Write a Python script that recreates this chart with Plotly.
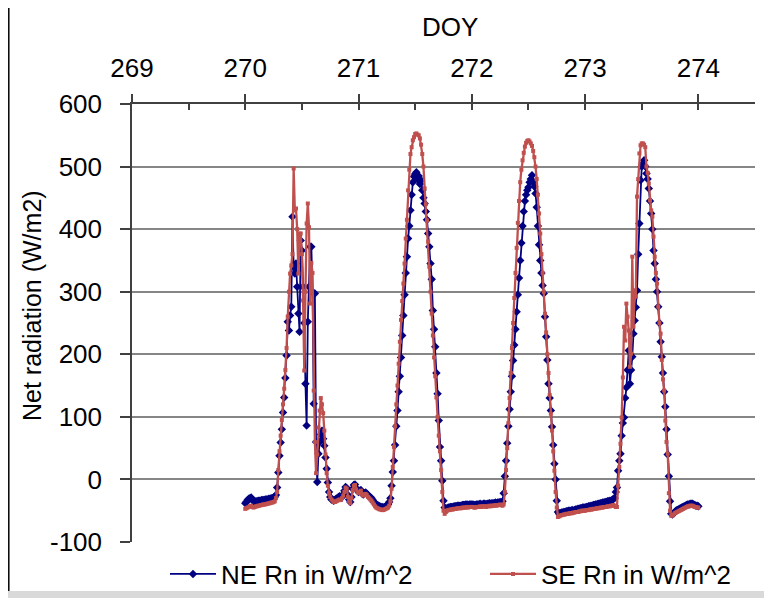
import numpy as np
import plotly.graph_objects as go

# ---- Data: 15-minute net radiation, DOY 270.0 .. 274.0 ----
day_start = 270.0
step = 1.0 / 96.0
x_ticks = [269, 270, 271, 272, 273, 274]
x_ticktext = ["269", "270", "271", "272", "273", "274"]
y_ticks = [-100, 0, 100, 200, 300, 400, 500, 600]
y_ticktext = ["-100", "0", "100", "200", "300", "400", "500", "600"]

ne_270 = [-38, -36, -33, -31, -30, -29, -32, -35, -36, -35, -35, -34,
          -34, -34, -33, -33, -33, -32, -32, -32, -31, -31, -30, -30,
          -29, -28, -25, -13, 11, 38, 59, 80, 107, 131, 162, 198,
          252, 238, 262, 276, 420, 340, 329, 345, 308, 265, 236, 382,
          366, 308, 250, 153, 86, 252, 308, 372, 372, 300, 121, 297,
          60, -4, 41, 60, 72, 78, 65, 54, 35, 17, -5, -20,
          -28, -32, -33, -34, -33, -31, -30, -28, -27, -29, -28, -24,
          -18, -12, -14, -25, -32, -36, -28, -15, -9, -8, -14, -17]
ne_271 = [-20, -18, -17, -22, -24, -22, -21, -23, -25, -27, -28, -30,
          -33, -36, -38, -40, -41, -42, -43, -44, -44, -45, -44, -43,
          -42, -40, -36, -30, -10, 12, 30, 55, 85, 110, 140, 165,
          195, 230, 262, 295, 330, 356, 385, 405, 430, 455, 475, 484,
          488, 491, 480, 485, 472, 478, 462, 450, 441, 428, 415, 393,
          372, 345, 320, 270, 240, 212, 170, 137, 94, 52, 30, -2,
          -34, -45, -47, -46, -45, -45, -44, -44, -44, -43, -43, -43,
          -42, -42, -42, -42, -41, -41, -41, -40, -40, -41, -40, -40]
ne_272 = [-40, -40, -41, -41, -40, -40, -40, -39, -40, -40, -39, -39,
          -40, -39, -39, -38, -39, -38, -38, -38, -37, -38, -37, -37,
          -36, -38, -35, -22, 5, 30, 58, 85, 112, 140, 165, 190,
          215, 240, 268, 295, 322, 350, 378, 405, 428, 445, 455, 462,
          467, 475, 480, 486, 475, 468, 457, 435, 405, 375, 350, 330,
          310, 297, 260, 228, 191, 153, 130, 110, 84, 55, 25, 0,
          -34, -52, -55, -54, -53, -53, -52, -52, -51, -51, -50, -50,
          -50, -49, -50, -49, -48, -48, -47, -47, -46, -46, -45, -45]
ne_273 = [-45, -44, -44, -43, -43, -42, -42, -41, -41, -40, -40, -39,
          -39, -38, -38, -37, -37, -36, -36, -35, -35, -34, -34, -33,
          -31, -30, -20, -13, 14, 30, 41, 70, 90, 99, 130, 147,
          175, 206, 153, 175, 196, 233, 254, 275, 302, 360, 409, 478,
          500, 505, 510, 500, 489, 480, 465, 445, 425, 400, 366, 345,
          320, 300, 276, 250, 220, 196, 170, 140, 116, 80, 40, 5,
          -35, -55, -56, -54, -52, -50, -49, -48, -47, -46, -45, -44,
          -43, -42, -41, -40, -40, -39, -39, -39, -40, -41, -42, -42,
          -43]

se_270 = [-47, -46, -45, -44, -43, -42, -44, -45, -44, -43, -43, -42,
          -42, -41, -41, -40, -40, -40, -39, -39, -38, -38, -37, -37,
          -36, -35, -30, -20, 15, 45, 70, 95, 120, 145, 175, 210,
          260, 300, 329, 342, 360, 497, 430, 433, 400, 329, 393, 393,
          360, 286, 174, 300, 409, 441, 403, 281, 346, 330, 142, 60,
          10, 40, 83, 110, 130, 120, 106, 78, 40, 10, -10, -22,
          -28, -32, -34, -36, -36, -35, -34, -33, -32, -33, -30, -26,
          -20, -13, -15, -28, -35, -38, -30, -17, -10, -9, -16, -20]
se_271 = [-22, -20, -18, -24, -26, -24, -23, -25, -28, -30, -32, -34,
          -37, -40, -43, -45, -46, -47, -48, -48, -49, -49, -48, -47,
          -46, -45, -42, -35, -15, 20, 52, 85, 120, 150, 185, 220,
          255, 285, 313, 345, 385, 415, 462, 495, 520, 531, 542, 547,
          552, 553, 551, 550, 545, 535, 520, 500, 465, 440, 414, 380,
          340, 300, 265, 230, 195, 165, 131, 100, 70, 45, 15, -20,
          -50, -55, -52, -50, -49, -49, -48, -48, -48, -47, -47, -47,
          -46, -46, -46, -46, -45, -45, -45, -45, -44, -45, -44, -44]
se_272 = [-44, -44, -45, -45, -44, -44, -44, -43, -44, -43, -43, -43,
          -44, -43, -43, -42, -43, -42, -42, -42, -41, -42, -41, -41,
          -40, -41, -42, -40, -20, 15, 50, 90, 130, 170, 210, 250,
          290, 330, 370, 410, 445, 475, 495, 510, 522, 532, 538, 541,
          542, 540, 537, 533, 525, 515, 500, 480, 455, 425, 393, 360,
          330, 300, 265, 235, 200, 170, 135, 105, 78, 45, 14, -20,
          -45, -60, -59, -58, -57, -57, -56, -56, -55, -55, -55, -54,
          -54, -54, -53, -53, -52, -52, -52, -51, -51, -50, -50, -50]
se_273 = [-50, -49, -49, -49, -48, -48, -48, -47, -47, -47, -46, -46,
          -46, -45, -45, -45, -44, -44, -44, -43, -43, -43, -42, -42,
          -41, -42, -44, -44, -10, 20, 57, 99, 163, 244, 222, 281,
          260, 238, 180, 201, 356, 244, 302, 292, 452, 480, 521, 534,
          537, 537, 535, 531, 500, 490, 473, 446, 430, 420, 388, 356,
          330, 313, 276, 250, 233, 191, 160, 142, 94, 60, 41, -22,
          -50, -58, -58, -56, -54, -53, -52, -51, -50, -49, -48, -47,
          -46, -45, -44, -43, -43, -42, -42, -42, -43, -44, -44, -45,
          -45]

ne = ne_270 + ne_271 + ne_272 + ne_273
se = se_270 + se_271 + se_272 + se_273
doy_ne = day_start + np.arange(len(ne)) * step
doy_se = day_start + np.arange(len(se)) * step

NAVY = "#000080"
RED = "#C0504D"
FONT = "Liberation Sans, Arial, sans-serif"

OFF = 8  # page body offset of the figure inside the browser window
W, H = 772, 598
L, T = 132 - OFF, 104 - OFF
R = W - (755 - OFF)
B = H - (542 - OFF)
pw, ph = W - L - R, H - T - B


def px(sx):
    """screen x -> paper x"""
    return (sx - OFF - L) / pw


def py(sy):
    """screen y -> paper y"""
    return (H - B - (sy - OFF)) / ph


fig = go.Figure()
fig.add_trace(go.Scatter(
    x=doy_ne, y=ne, mode="lines+markers", name="NE Rn in W/m^2",
    line=dict(color=NAVY, width=1.8),
    marker=dict(symbol="diamond", size=6.5, color=NAVY), legend="legend"))
fig.add_trace(go.Scatter(
    x=doy_se, y=se, mode="lines+markers", name="SE Rn in W/m^2",
    line=dict(color=RED, width=2.3),
    marker=dict(symbol="square", size=4, color=RED), legend="legend2"))
# helper trace so the overlay axis (inside minor ticks) renders
fig.add_trace(go.Scatter(x=[269], y=[None], xaxis="x2", showlegend=False,
                         hoverinfo="skip"))

leg_common = dict(orientation="h", xanchor="left", yanchor="middle",
                  xref="container", yref="container",
                  font=dict(size=26), itemwidth=46,
                  bgcolor="rgba(0,0,0,0)")

fig.update_layout(
    width=W, height=H,
    margin=dict(l=L, r=R, t=T, b=B, pad=0, autoexpand=False),
    paper_bgcolor="white", plot_bgcolor="white",
    font=dict(family=FONT, size=26, color="black"),
    showlegend=True,
    legend=dict(x=157 / W, y=1 - 566 / H, **leg_common),
    legend2=dict(x=477 / W, y=1 - 566 / H, **leg_common),
    xaxis=dict(side="top", range=[269, 274.5], tickmode="array",
               tickvals=x_ticks, ticktext=x_ticktext,
               ticks="outside", ticklen=8, tickwidth=1.5, tickcolor="#404040",
               showline=True, linecolor="#404040", linewidth=1.5,
               showgrid=False, zeroline=False, ticklabelstandoff=7,
               automargin=False, tickfont=dict(size=26)),
    xaxis2=dict(overlaying="x", side="top", range=[269, 274.5],
                tickmode="linear", tick0=269, dtick=0.5,
                ticks="inside", ticklen=6, tickwidth=1.5, tickcolor="#404040",
                showticklabels=False, showline=False, showgrid=False,
                zeroline=False, automargin=False),
    yaxis=dict(range=[-100, 600], tickmode="array",
               tickvals=y_ticks, ticktext=y_ticktext,
               ticks="outside", ticklen=10, tickwidth=1.5, tickcolor="#404040",
               showline=True, linecolor="#404040", linewidth=1.5,
               showgrid=True, gridcolor="#868686", gridwidth=1.5,
               zeroline=False, ticklabelstandoff=13, automargin=False,
               tickfont=dict(size=26)),
    annotations=[
        dict(text="DOY", x=px(450), y=py(27), xref="paper", yref="paper",
             xanchor="center", yanchor="middle",
             showarrow=False, font=dict(size=26)),
        dict(text="Net radiation (W/m2)", x=px(32), y=py(306),
             xref="paper", yref="paper", xanchor="center", yanchor="middle",
             showarrow=False, textangle=-90, font=dict(size=25)),
    ],
    shapes=[
        dict(type="rect", xref="paper", yref="paper", x0=px(0), x1=px(800),
             y0=py(591), y1=py(610), fillcolor="#d9d9d9", line=dict(width=0),
             layer="below"),
        dict(type="line", xref="paper", yref="paper", x0=px(8.8), x1=px(8.8),
             y0=py(0), y1=py(591), line=dict(color="black", width=1.5)),
    ],
)

fig.write_html("out.html")
